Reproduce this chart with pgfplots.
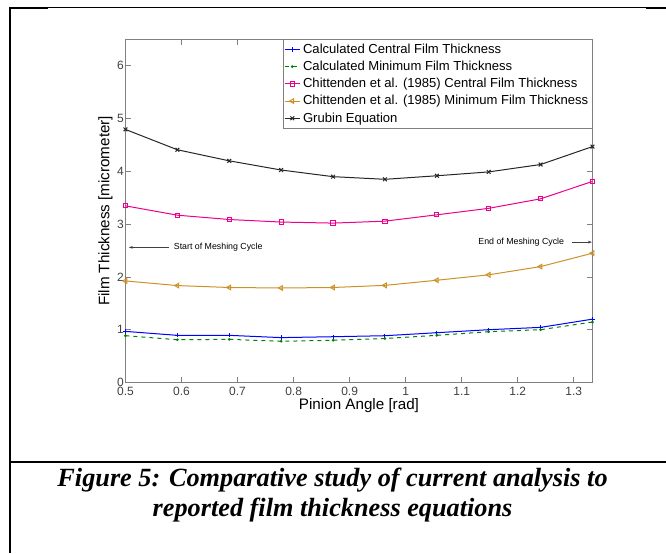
\documentclass[border=0pt]{standalone}
\usepackage{pgfplots}
\pgfplotsset{compat=1.18}
\usepackage{fontspec}
\setmainfont{Liberation Serif}
\newfontfamily\arial{Liberation Sans}
\usetikzlibrary{arrows.meta}

\definecolor{chorange}{RGB}{204,145,40}
\definecolor{axgray}{gray}{0.5}

\begin{document}
\begin{tikzpicture}
\path[use as bounding box] (0,0) rectangle (499.5pt,414.75pt);
% page frame
\draw[line width=1.7pt] (7.65pt,0) -- (7.65pt,409.7pt);
\draw[line width=1.7pt] (6.8pt,408.86pt) -- (35.8pt,408.86pt);
\draw[line width=0.6pt] (35.8pt,408.9pt) -- (484.5pt,408.9pt);
\draw[line width=1.7pt] (484.5pt,408.75pt) -- (499.5pt,408.75pt);
\draw[line width=1.5pt] (6.8pt,68.5pt) -- (499.5pt,68.5pt);

\begin{axis}[
  at={(94.1pt,127.9pt)}, anchor=south west,
  scale only axis, width=350.25pt, height=257.25pt,
  xmin=0.5, xmax=1.3333, ymin=0, ymax=6.5,
  xtick={0.5,0.6,0.7,0.8,0.9,1,1.1,1.2,1.3}, ytick={0,1,2,3,4,5,6},
  axis line style={axgray, line width=0.6pt},
  tick style={axgray, line width=0.6pt},
  major tick length=4pt,
  tick label style={font=\arial\fontsize{9}{10}\selectfont, text=black!75},
  yticklabel style={inner xsep=1pt},
  /pgf/number format/assume math mode=true,
  xlabel={Pinion Angle [rad]}, ylabel={Film Thickness [micrometer]},
  every axis x label/.style={at={(axis description cs:0.5,-0.066)}, anchor=center,
    font=\arial\fontsize{11.4}{13}\selectfont},
  every axis y label/.style={at={(axis description cs:-0.043,0.5)}, rotate=90, anchor=center,
    font=\arial\fontsize{11.4}{13}\selectfont},
  legend style={at={(1,1)}, anchor=north east, draw=axgray, fill=white,
    font=\arial\fontsize{9.8}{11}\selectfont, inner sep=1pt, row sep=0.3pt},
  legend cell align=left,
  legend image code/.code={\draw[mark repeat=2,mark phase=2,#1]
    plot coordinates {(0cm,0cm) (0.2cm,0cm) (0.4cm,0cm)};},
  every axis plot/.append style={line width=0.75pt},
]
\addplot[blue, mark=+, mark size=1.6pt] coordinates {
(0.5,0.968) (0.5926,0.893) (0.6852,0.893) (0.7778,0.85) (0.8704,0.867)
(0.963,0.886) (1.0556,0.943) (1.1481,1.0) (1.2407,1.044) (1.3333,1.2)};
\addlegendentry{Calculated Central Film Thickness}
\addplot[green!50!black, dashed, mark=*, mark size=0.6pt, mark options={solid}] coordinates {
(0.5,0.886) (0.5926,0.81) (0.6852,0.817) (0.7778,0.78) (0.8704,0.80)
(0.963,0.833) (1.0556,0.893) (1.1481,0.962) (1.2407,1.0) (1.3333,1.145)};
\addlegendentry{Calculated Minimum Film Thickness}
\addplot[magenta, mark=square, mark size=1.6pt] coordinates {
(0.5,3.347) (0.5926,3.17) (0.6852,3.088) (0.7778,3.04) (0.8704,3.02)
(0.963,3.057) (1.0556,3.177) (1.1481,3.30) (1.2407,3.48) (1.3333,3.81)};
\addlegendentry{Chittenden et al. (1985) Central Film Thickness}
\addplot[chorange, mark=triangle, mark size=2pt, mark options={rotate=90}] coordinates {
(0.5,1.924) (0.5926,1.836) (0.6852,1.80) (0.7778,1.79) (0.8704,1.80)
(0.963,1.84) (1.0556,1.937) (1.1481,2.04) (1.2407,2.196) (1.3333,2.45)};
\addlegendentry{Chittenden et al. (1985) Minimum Film Thickness}
\addplot[black!85, mark=x, mark size=2pt] coordinates {
(0.5,4.795) (0.5926,4.41) (0.6852,4.20) (0.7778,4.026) (0.8704,3.90)
(0.963,3.85) (1.0556,3.917) (1.1481,3.99) (1.2407,4.13) (1.3333,4.47)};
\addlegendentry{Grubin Equation}

\draw[-{Stealth[length=3pt,width=2pt]}, black!75, line width=0.4pt] (axis cs:0.578,2.56) -- (axis cs:0.506,2.56);
\node[anchor=west, font=\arial\fontsize{6.6}{8}\selectfont, inner sep=0pt] at (axis cs:0.586,2.56) {Start of Meshing Cycle};
\draw[-{Stealth[length=3pt,width=2pt]}, black!75, line width=0.4pt] (axis cs:1.297,2.66) -- (axis cs:1.3325,2.66);
\node[anchor=east, font=\arial\fontsize{6.6}{8}\selectfont, inner sep=0pt] at (axis cs:1.283,2.66) {End of Meshing Cycle};
\end{axis}

\node[anchor=base, font=\fontsize{19.7}{22.5}\selectfont\bfseries\itshape] at (249.4pt,50.25pt)
  {Figure 5: Comparative study of current analysis to};
\node[anchor=base, font=\fontsize{19.7}{22.5}\selectfont\bfseries\itshape] at (249.4pt,27.75pt)
  {reported film thickness equations};
\end{tikzpicture}
\end{document}
